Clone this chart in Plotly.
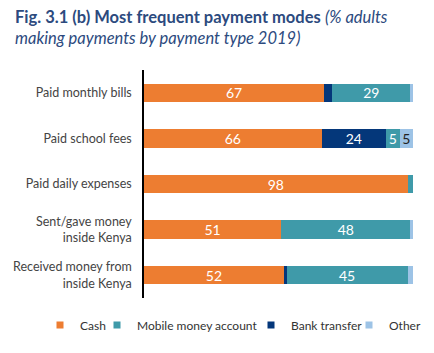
import plotly.graph_objects as go

categories = ["Paid monthly bills", "Paid school fees", "Paid daily expenses",
              "Sent/gave money<br>inside Kenya", "Received money from<br>inside Kenya"]
cash = [67, 66, 98, 51, 52]
bank = [3, 24, 0, 0, 1]
mobile = [29, 5, 2, 48, 45]
other = [1, 5, 0, 1, 2]

colors = {"Cash": "#ED7D31", "Mobile money account": "#3F9AA9",
          "Bank transfer": "#04377A", "Other": "#9DC3E6"}
font = "Lato"

# plot area in pixels
L, R, T, B = 144, 21, 70, 55
W, H = 434, 353
pw, ph = W - L - R, H - T - B

def px_x(x):
    return (x - L) / pw

def px_y(y):
    return (H - B - y) / ph

fig = go.Figure()
series = [("Cash", cash, "white", "legend"),
          ("Bank transfer", bank, "white", "legend3"),
          ("Mobile money account", mobile, "white", "legend2"),
          ("Other", other, "#222222", "legend4")]
for name, vals, tc, lg in series:
    fig.add_trace(go.Bar(
        y=categories, x=vals, name=name, orientation="h",
        marker=dict(color=colors[name], line=dict(width=0)),
        text=[str(v) if v >= 5 else "" for v in vals],
        textposition="inside", insidetextanchor="middle", textangle=0,
        constraintext="none",
        textfont=dict(color=tc, size=14, family=font),
        showlegend=False, hoverinfo="skip",
    ))
    # legend entry with a small square symbol
    fig.add_trace(go.Scatter(
        x=[None], y=[None], mode="markers", name=name,
        marker=dict(symbol="square", size=7, color=colors[name]),
        legend=lg, showlegend=True, hoverinfo="skip",
    ))

legend_common = dict(orientation="h", xref="container", yref="container",
                     yanchor="middle", y=1 - 325 / H, xanchor="left",
                     font=dict(size=12, color="#333333", family=font),
                     itemwidth=30, bgcolor="rgba(0,0,0,0)",
                     entrywidth=170, entrywidthmode="pixels")
leg_x = {"legend": 40, "legend2": 97, "legend3": 251, "legend4": 349}

fig.update_layout(
    barmode="stack", bargap=0.6,
    width=W, height=H,
    margin=dict(l=L, r=R, t=T, b=B),
    paper_bgcolor="white", plot_bgcolor="white",
    font=dict(family=font, color="#444444", size=13),
    xaxis=dict(range=[0, 100], visible=False, fixedrange=True),
    yaxis=dict(autorange="reversed", showline=True, linecolor="black", linewidth=1.5,
               ticks="", ticklabelstandoff=8, showgrid=False,
               tickfont=dict(size=12.5, color="#444444", family=font)),
    showlegend=True,
)
for lg, xp in leg_x.items():
    fig.update_layout({lg: dict(legend_common, x=xp / W)})

fig.add_annotation(
    text="<b>Fig. 3.1 (b) Most frequent payment modes</b> <i>(% adults<br>making payments by payment type 2019)</i>",
    xref="paper", yref="paper", x=px_x(13), y=px_y(5), xanchor="left", yanchor="top",
    align="left", showarrow=False,
    font=dict(family=font, size=16.5, color="#2C4A7E"),
)

fig.write_html("out.html")
